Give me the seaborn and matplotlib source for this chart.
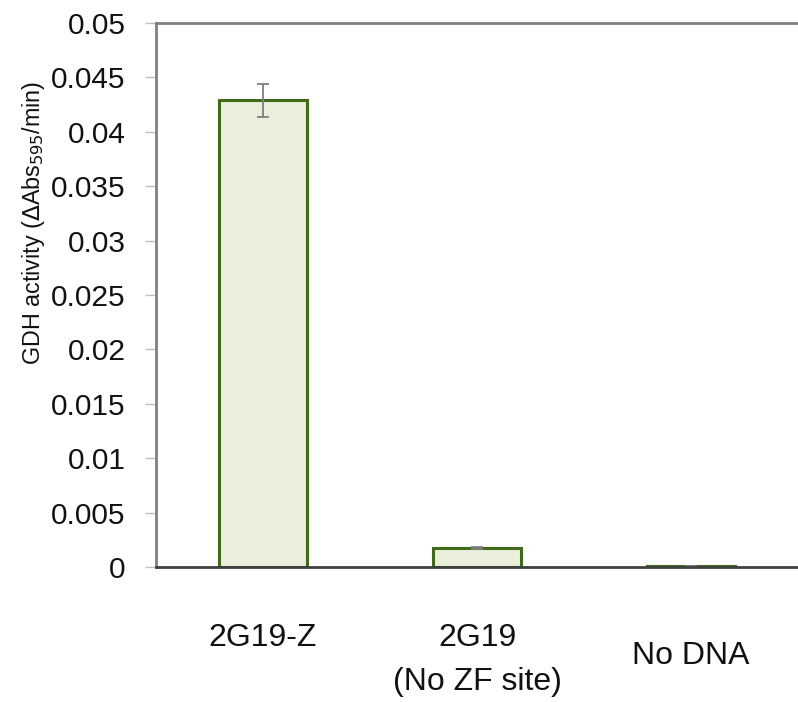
import pandas as pd
import matplotlib
matplotlib.use("Agg")
import matplotlib.pyplot as plt
import matplotlib.transforms as mtransforms
import seaborn as sns
from matplotlib.ticker import FuncFormatter

# --- DATA ---
categories = ["2G19-Z", "2G19\n(No ZF site)", "No DNA"]
activity = [0.0429, 0.00175, 0.0001]
activity_err = [0.0015, 0.0001, 0.0]
y_ticks = [0, 0.005, 0.01, 0.015, 0.02, 0.025, 0.03, 0.035, 0.04, 0.045, 0.05]

FILL = "#E9EFDA"
EDGE = "#3F6B1A"


def main():
    df = pd.DataFrame({"Sample": categories, "Activity": activity})

    sns.set_style("white")
    plt.rcParams["font.family"] = ["Liberation Sans", "DejaVu Sans"]

    fig = plt.figure(figsize=(7.98, 7.02), dpi=100)
    ax = fig.add_axes([0.1955, 0.1923, 0.8045, 0.7749])

    sns.barplot(data=df, x="Sample", y="Activity", color=FILL,
                edgecolor=EDGE, linewidth=2.2, width=0.41,
                errorbar=None, saturation=1, ax=ax)

    # error bars
    ax.errorbar(range(len(categories)), activity, yerr=activity_err,
                fmt="none", ecolor="#7f7f7f", elinewidth=1.3,
                capsize=4, capthick=1.3)

    ax.set_ylim(0, 0.05)
    ax.set_xlim(-0.5, 2.5)
    ax.set_yticks(y_ticks)
    ax.yaxis.set_major_formatter(FuncFormatter(lambda v, p: "{:g}".format(round(v, 4))))
    ax.set_xlabel("")
    ax.set_ylabel("GDH activity ($\\Delta$Abs$_{595}$/min)", fontsize=16.8,
                  color="#111111")
    # label sits above the middle of the axis, as in the original
    ax.yaxis.set_label_coords(-0.17, 0.632)

    ax.tick_params(axis="y", which="major", left=True, length=8, width=1,
                   color="#bfbfbf", labelsize=21.5, pad=14, labelcolor="#111111")
    ax.tick_params(axis="x", bottom=False, labelsize=23, pad=37, labelcolor="#111111")

    for name in ["left", "top"]:
        ax.spines[name].set_color("#808080")
        ax.spines[name].set_linewidth(2)
    ax.spines["bottom"].set_color("#404040")
    ax.spines["bottom"].set_linewidth(2)
    ax.spines["right"].set_visible(False)

    for lbl in ax.get_xticklabels():
        lbl.set_linespacing(1.6)

    # third label sits between the two lines of the second label
    lbl = ax.get_xticklabels()[2]
    lbl.set_transform(lbl.get_transform() +
                      mtransforms.ScaledTranslation(0, -18 / 100, fig.dpi_scale_trans))

    fig.savefig("out.png", dpi=100)


if __name__ == "__main__":
    main()
